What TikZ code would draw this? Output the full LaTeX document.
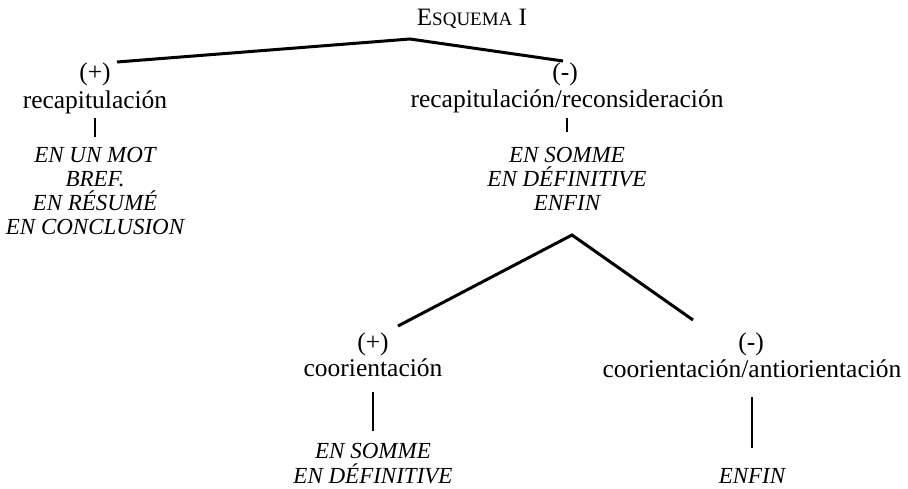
\documentclass[tikz,border=0pt]{standalone}
\usepackage{fontspec}
\setmainfont{Liberation Serif}
\usepackage{tikz}

\tikzset{
  lbl/.style={inner sep=0pt,text height=17pt,text depth=5.5pt,anchor=base,font=\fontsize{25.5}{24}\selectfont},
  term/.style={lbl,font=\fontsize{23}{24}\selectfont\itshape},
  branch/.style={line width=3pt},
  tick/.style={line width=2.8pt}
}

\begin{document}
\begin{tikzpicture}[x=1pt,y=-1pt]
\useasboundingbox (0,0) rectangle (908,488);
\node[lbl] (title) at (472,25) {\fontsize{25}{25}\selectfont E{\fontsize{19}{19}\selectfont SQUEMA} I};
\coordinate (top-0) at (410,39);
\coordinate (end-l) at (117,62);
\coordinate (end-r) at (563,61);
\draw[branch] (end-l) -- (top-0) -- (end-r);
\node[lbl] (sign-l) at (95,80) {(+)};
\node[lbl] (rec-l) at (95,108) {recapitulación};
\node[lbl] (sign-r) at (565,80) {(-)};
\node[lbl] (rec-r) at (567,107) {recapitulación/reconsideración};
\foreach \w [count=\i] in {EN UN MOT,BREF.,EN RÉSUMÉ,EN CONCLUSION}{
  \node[term] (t-l-\i) at (95,138+24*\i) {\w};
};
\foreach \w [count=\i] in {EN SOMME,EN DÉFINITIVE,ENFIN}{
  \node[term] (t-r-\i) at (567,138+24*\i) {\w};
};
\draw[tick,shorten <=4.5pt,shorten >=8pt] (rec-l) -- (t-l-1);
\draw[tick,shorten <=5.5pt,shorten >=13pt] (rec-r) -- (t-r-1);
% second level
\coordinate (top-1) at (572,235);
\coordinate (end-ll) at (398,326);
\coordinate (end-rr) at (693,320);
\draw[branch] (end-ll) -- (top-1) -- (end-rr);
\node[lbl] (sign-ll) at (373,350) {(+)};
\node[lbl] (co-l) at (373,376) {coorientación};
\node[lbl] (sign-rr) at (751,350) {(-)};
\node[lbl] (co-r) at (752,377) {coorientación/antiorientación};
\foreach \w [count=\i] in {EN SOMME,EN DÉFINITIVE}{
  \node[term] (b-l-\i) at (373,433+25*\i) {\w};
};
\node[term] (b-r-1) at (752,483) {ENFIN};
\draw[tick,shorten <=10.5pt,shorten >=10pt] (co-l) -- (b-l-1);
\draw[tick,shorten <=14.5pt,shorten >=18pt] (co-r) -- (b-r-1);
\end{tikzpicture}
\end{document}
